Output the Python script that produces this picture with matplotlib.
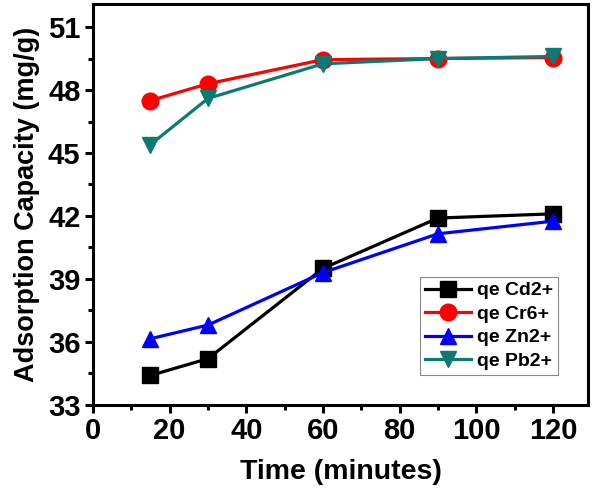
import matplotlib
matplotlib.use("Agg")
import matplotlib.pyplot as plt
from matplotlib.ticker import MultipleLocator

plt.rcParams["font.family"] = ["Liberation Sans", "DejaVu Sans"]
plt.rcParams["font.weight"] = "bold"

time_min = [15, 30, 60, 90, 120]
qe_cd = [34.4, 35.2, 39.5, 41.9, 42.1]
qe_cr = [47.5, 48.3, 49.45, 49.5, 49.55]
qe_zn = [36.15, 36.8, 39.3, 41.15, 41.75]
qe_pb = [45.4, 47.6, 49.25, 49.5, 49.6]

series = [
    ("qe Cd2+", qe_cd, "black", "s"),
    ("qe Cr6+", qe_cr, "red", "o"),
    ("qe Zn2+", qe_zn, "blue", "^"),
    ("qe Pb2+", qe_pb, "#0a7a74", "v"),
]

fig = plt.figure(figsize=(5.96, 5.01), dpi=100)
ax = fig.add_axes([0.156, 0.192, 0.831, 0.800])

for label, vals, color, marker in series:
    ax.plot(time_min, vals, color=color, marker=marker, markersize=12,
            linewidth=2.3, label=label)

ax.set_xlim(0, 129.2)
ax.set_ylim(33, 52.1)
ax.xaxis.set_major_locator(MultipleLocator(20))
ax.xaxis.set_minor_locator(MultipleLocator(10))
ax.yaxis.set_major_locator(MultipleLocator(3))
ax.yaxis.set_minor_locator(MultipleLocator(1.5))

for s in ax.spines.values():
    s.set_linewidth(2.2)
ax.tick_params(which="major", direction="out", length=6, width=2.2, labelsize=21, pad=3)
ax.tick_params(which="minor", direction="out", length=3.5, width=2.2)

ax.set_xlabel("Time (minutes)", fontsize=20.5, fontweight="bold", labelpad=10)
ax.set_ylabel("Adsorption Capacity (mg/g)", fontsize=19.5, fontweight="bold", labelpad=6)

leg = ax.legend(loc="upper right", bbox_to_anchor=(0.939, 0.319), borderaxespad=0,
                fontsize=14, handlelength=2.4, handletextpad=0.3, labelspacing=0.3,
                borderpad=0.25, fancybox=False, framealpha=1)
leg.get_frame().set_edgecolor("#888888")
leg.get_frame().set_linewidth(0.8)

fig.savefig("out.png", dpi=100)
